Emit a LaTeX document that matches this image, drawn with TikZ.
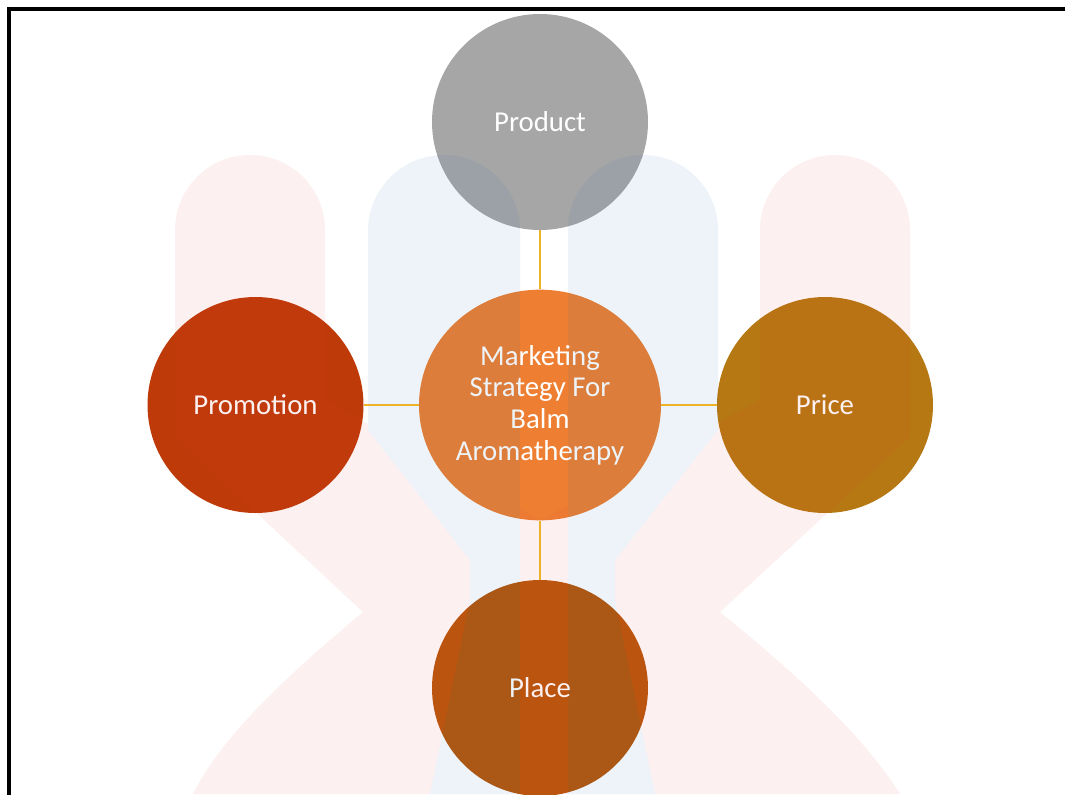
\documentclass[tikz,border=0pt]{standalone}
\usepackage{fontspec}
\setmainfont{Carlito}
\usetikzlibrary{shapes.geometric}

\definecolor{prodgray}{RGB}{166,166,166}
\definecolor{coreorange}{RGB}{238,127,50}
\definecolor{promored}{RGB}{190,58,8}
\definecolor{pricegold}{RGB}{182,120,18}
\definecolor{placerust}{RGB}{184,86,10}
\definecolor{linkgold}{RGB}{236,178,40}
\definecolor{markred}{RGB}{230,68,68}
\definecolor{markblue}{RGB}{30,105,167}

\tikzset{
  mixball/.style={circle, minimum size=162pt, inner sep=0pt, text=white,
    font=\fontsize{21.6}{23.8}\selectfont},
  link/.style={draw=linkgold, line width=1.4pt},
}

\begin{document}
\begin{tikzpicture}[x=0.75pt,y=0.75pt,yscale=-1,xscale=1]
\useasboundingbox (0,0) rectangle (1065,794);
\clip (0,0) rectangle (1065,794);
\fill[white] (0,0) rectangle (1065,794);

%Shape: Circles
\node[mixball, fill=prodgray] (product) at (540,122) {Product};
\node[mixball, fill=promored] (promotion) at (255.5,405) {Promotion};
\node[mixball, fill=pricegold] (price) at (825,405) {Price};
\node[mixball, fill=placerust] (place) at (540,688) {Place};
\node[mixball, ellipse, minimum width=181.5pt, minimum height=173pt, fill=coreorange, align=center] (core) at (540,405)
  {Marketing\\Strategy For\\Balm\\Aromatherapy};

%Shape: faint logo laid over the chart
\begin{scope}[transparency group, opacity=0.08]
\fill[markred] (175,437) -- (175,230) arc[start angle=180,end angle=360,radius=75] -- (325,400) -- (541,520) -- (760,400)
  -- (760,230) arc[start angle=180,end angle=360,radius=75] -- (910,437) -- (720,612)
  .. controls (785,665) and (860,730) .. (900,794) -- (193,794)
  .. controls (225,730) and (300,665) .. (363,612) -- cycle ;
\fill[markblue] (368,430) -- (368,231) arc[start angle=180,end angle=360,radius=76] -- (520,794) -- (430,794)
  -- (470,600) -- (470,560) -- cycle ;
\fill[markblue] (718,430) -- (718,230) arc[start angle=360,end angle=180,radius=75] -- (568,794) -- (655,794)
  -- (615,600) -- (615,560) -- cycle ;
\end{scope}

%Straight Lines
\draw[link] (product) -- (core);
\draw[link] (promotion) -- (core);
\draw[link] (core) -- (price);
\draw[link] (core) -- (place);

%Shape: Frame
\draw[line width=3pt] (9,9) rectangle (1090,820);

\end{tikzpicture}
\end{document}
